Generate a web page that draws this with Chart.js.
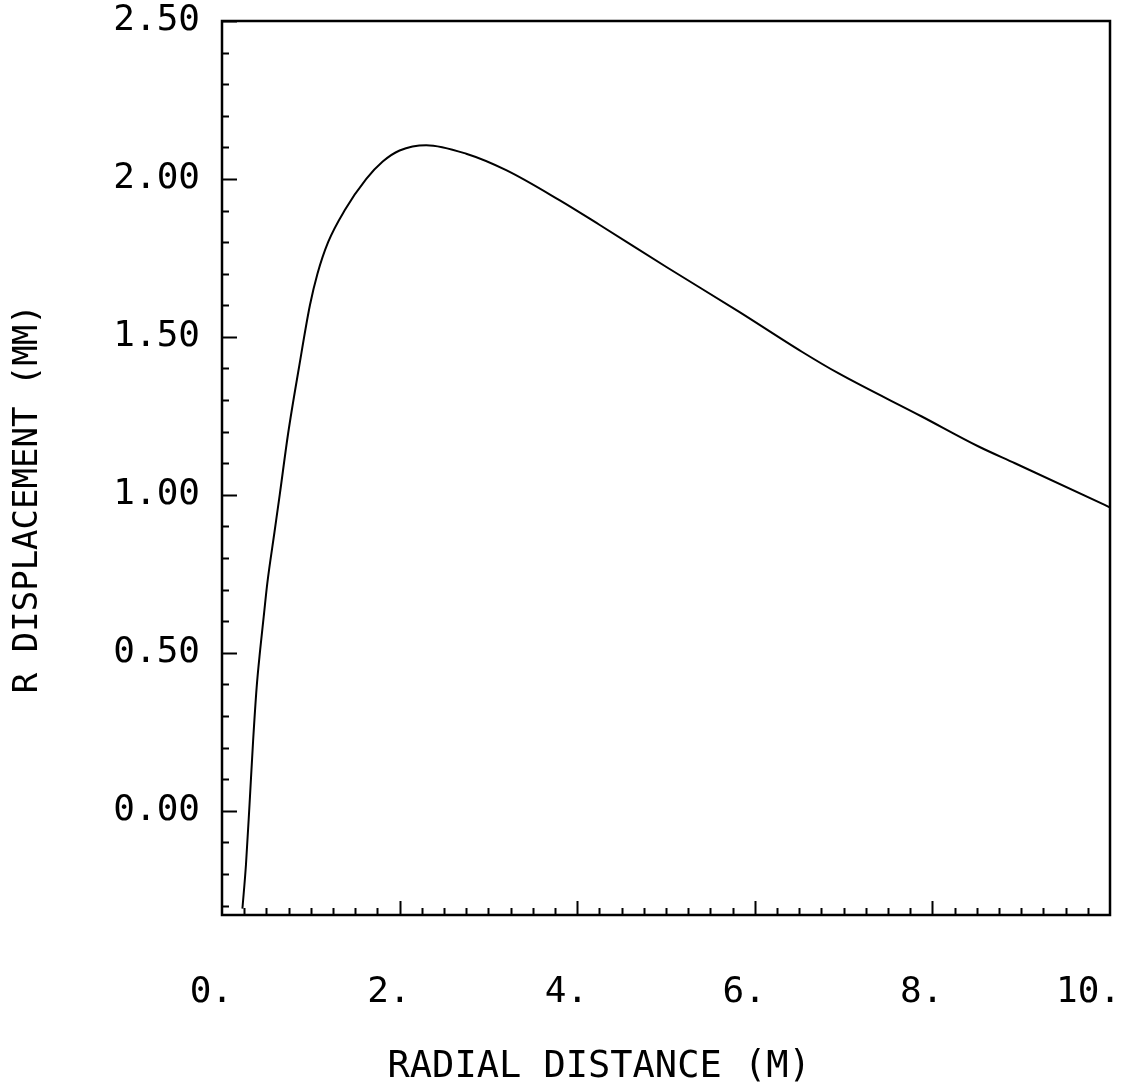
<!DOCTYPE html>
<html>
<head>
<meta charset="utf-8">
<script src="https://cdn.jsdelivr.net/npm/chart.js@4/dist/chart.umd.min.js"></script>
<style>
  html, body { margin: 0; padding: 0; background: #fff; }
  #wrap { width: 1135px; height: 1086px; }
</style>
</head>
<body>
<div id="wrap"><canvas id="plot"></canvas></div>
<script>
// values
const radialDistance = [0.23, 0.27, 0.31, 0.35, 0.39, 0.43, 0.47, 0.51, 0.59, 0.65, 0.745, 0.865, 0.99, 1.075, 1.195, 1.38, 1.625, 1.81, 2.0, 2.3, 2.75, 3.2, 3.8, 4.25, 5.0, 5.82, 6.53, 6.94, 7.88, 8.52, 8.93, 9.94, 10.0];
const rDisplacement = [-0.31, -0.17, 0.02, 0.22, 0.39, 0.51, 0.615, 0.72, 0.88, 1.0, 1.195, 1.40, 1.60, 1.70, 1.80, 1.90, 2.00, 2.055, 2.09, 2.107, 2.08, 2.028, 1.933, 1.855, 1.722, 1.58, 1.453, 1.385, 1.248, 1.153, 1.10, 0.968, 0.96];

const xTickValues = [0, 2, 4, 6, 8, 10];
const xTickLabels = ["0.", "2.", "4.", "6.", "8.", "10."];
const yTickValues = [0, 0.5, 1, 1.5, 2, 2.5];
const yTickLabels = ["0.00", "0.50", "1.00", "1.50", "2.00", "2.50"];

const FONT = "'DejaVu Sans Mono', monospace";

// inward tick marks, the way the old plotter drew them
const innerTicks = {
    id: "innerTicks",
    afterDatasetsDraw(chart) {
        const ctx = chart.ctx;
        const area = chart.chartArea;
        const xs = chart.scales.x;
        const ys = chart.scales.y;
        ctx.save();
        ctx.strokeStyle = "#000";
        ctx.lineWidth = 2;
        ctx.beginPath();
        for (let i = -3; i <= 25; i++) {
            const py = Math.round(ys.getPixelForValue(i / 10)) + 0.5;
            const len = i % 5 === 0 ? 15 : 7;
            ctx.moveTo(area.left, py);
            ctx.lineTo(area.left + len, py);
        }
        for (let i = 1; i < 40; i++) {
            const px = Math.round(xs.getPixelForValue(i / 4)) + 0.5;
            const len = i % 8 === 0 ? 14 : 7;
            ctx.moveTo(px, area.bottom);
            ctx.lineTo(px, area.bottom - len);
        }
        ctx.stroke();
        ctx.lineWidth = 2.5;
        ctx.strokeRect(area.left, area.top, area.right - area.left, area.bottom - area.top);
        ctx.restore();
    }
};

new Chart(document.getElementById("plot"), {
    type: "line",
    data: {
        datasets: [{
            data: radialDistance.map((x, i) => ({ x: x, y: rDisplacement[i] })),
            borderColor: "#000",
            borderWidth: 2,
            pointRadius: 0,
            cubicInterpolationMode: "monotone",
            fill: false
        }]
    },
    options: {
        responsive: true,
        maintainAspectRatio: false,
        animation: false,
        layout: { padding: { top: 21, right: 25, left: 0, bottom: 0 } },
        plugins: {
            legend: { display: false },
            tooltip: { enabled: false }
        },
        scales: {
            x: {
                type: "linear",
                min: 0,
                max: 10,
                afterBuildTicks: (s) => { s.ticks = xTickValues.map(v => ({ value: v })); },
                afterFit: (s) => { s.height = 171; s.paddingLeft = 0; s.paddingRight = 0; },
                grid: { drawOnChartArea: false, drawTicks: false },
                border: { display: false },
                ticks: {
                    autoSkip: false,
                    maxRotation: 0,
                    align: "end",
                    labelOffset: 11,
                    padding: 56,
                    color: "#000",
                    font: { family: FONT, size: 36 },
                    callback: (v) => xTickLabels[xTickValues.indexOf(v)]
                },
                title: {
                    display: true,
                    text: "RADIAL DISTANCE (M)      ",
                    color: "#000",
                    font: { family: FONT, size: 37, lineHeight: 1 },
                    padding: { top: 0, bottom: 0 }
                }
            },
            y: {
                type: "linear",
                min: -0.33,
                max: 2.5,
                afterBuildTicks: (s) => { s.ticks = yTickValues.map(v => ({ value: v })); },
                afterFit: (s) => { s.width = 222; s.paddingTop = 0; s.paddingBottom = 0; },
                grid: { drawOnChartArea: false, drawTicks: false },
                border: { display: false },
                ticks: {
                    autoSkip: false,
                    padding: 22,
                    color: "#000",
                    font: { family: FONT, size: 36 },
                    callback: (v) => yTickLabels[yTickValues.indexOf(v)]
                },
                title: {
                    display: true,
                    text: "R DISPLACEMENT (MM)   ",
                    color: "#000",
                    font: { family: FONT, size: 34, lineHeight: 1 },
                    padding: { top: 11, bottom: 0 }
                }
            }
        }
    },
    plugins: [innerTicks]
});
</script>
</body>
</html>
